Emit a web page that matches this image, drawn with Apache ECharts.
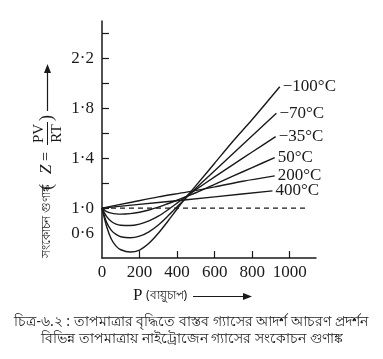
<!DOCTYPE html>
<html>
<head>
<meta charset="utf-8">
<script src="https://cdn.jsdelivr.net/npm/echarts@6/dist/echarts.min.js"></script>
<style>
html,body{margin:0;padding:0;background:#fff;}
#c{width:383px;height:359px;}
</style>
</head>
<body>
<div id="c"></div>
<script>
// ---- data ----
const seriesNames = ['\u2212100\u00B0C', '\u221270\u00B0C', '\u221235\u00B0C', '50\u00B0C', '200\u00B0C', '400\u00B0C'];
const tM100 = [[0,1],[25,0.85],[50,0.75],[75,0.695],[100,0.666],[150,0.648],[200,0.664],[250,0.718],[300,0.798],[350,0.893],[400,0.993],[450,1.09],[500,1.18],[600,1.36],[700,1.54],[800,1.71],[947,1.973]];
const tM70 = [[0,1],[25,0.885],[50,0.822],[75,0.789],[100,0.77],[150,0.762],[200,0.775],[250,0.81],[300,0.865],[350,0.935],[400,1.01],[450,1.085],[500,1.16],[600,1.3],[700,1.44],[800,1.58],[929,1.76]];
const tM35 = [[0,1],[25,0.932],[50,0.893],[75,0.871],[100,0.862],[150,0.86],[200,0.872],[250,0.897],[300,0.935],[350,0.985],[400,1.04],[450,1.095],[500,1.148],[600,1.25],[700,1.35],[800,1.45],[925,1.573]];
const t50 = [[0,1],[25,0.972],[50,0.96],[75,0.954],[100,0.952],[150,0.956],[200,0.967],[250,0.985],[300,1.008],[350,1.035],[400,1.063],[450,1.093],[500,1.123],[600,1.19],[700,1.258],[800,1.325],[920,1.405]];
const t200 = [[0,1],[150,1.045],[300,1.09],[450,1.128],[600,1.17],[750,1.215],[920,1.258]];
const t400 = [[0,1],[300,1.045],[600,1.09],[908,1.138]];
const ideal = [[0,1],[856,1],[1085,1]];
const idealLabel = '\u0986\u09A6\u09B0\u09CD\u09B6';
const xLabelValues = [0,200,400,600,800,1000];
const xTickValues = [200,400,600,800,1000];
const yLabelValues = [0.6,1.0,1.4,1.8,2.2];
const yTickValues = [1.0,1.2,1.4,1.6,1.8,2.0,2.2,2.4];
const yAxisTitle = '\u09B8\u0982\u0995\u09CB\u099A\u09A8 \u0997\u09C1\u09A3\u09BE\u0999\u09CD\u0995';
const xAxisTitle = '(\u09AC\u09BE\u09AF\u09BC\u09C1\u099A\u09BE\u09AA)';
const caption1 = '\u099A\u09BF\u09A4\u09CD\u09B0-\u09EC.\u09E8 : \u09A4\u09BE\u09AA\u09AE\u09BE\u09A4\u09CD\u09B0\u09BE\u09B0 \u09AC\u09C3\u09A6\u09CD\u09A7\u09BF\u09A4\u09C7 \u09AC\u09BE\u09B8\u09CD\u09A4\u09AC \u0997\u09CD\u09AF\u09BE\u09B8\u09C7\u09B0 \u0986\u09A6\u09B0\u09CD\u09B6 \u0986\u099A\u09B0\u09A3 \u09AA\u09CD\u09B0\u09A6\u09B0\u09CD\u09B6\u09A8';
const caption2 = '\u09AC\u09BF\u09AD\u09BF\u09A8\u09CD\u09A8 \u09A4\u09BE\u09AA\u09AE\u09BE\u09A4\u09CD\u09B0\u09BE\u09AF\u09BC \u09A8\u09BE\u0987\u099F\u09CD\u09B0\u09CB\u099C\u09C7\u09A8 \u0997\u09CD\u09AF\u09BE\u09B8\u09C7\u09B0 \u09B8\u0982\u0995\u09CB\u099A\u09A8 \u0997\u09C1\u09A3\u09BE\u0999\u09CD\u0995';

const curves = [tM100, tM70, tM35, t50, t200, t400];
const INK = '#1a1a1a';
const SERIF = '"Liberation Serif", "DejaVu Serif", serif';
const BN = '"Noto Sans", "DejaVu Sans", sans-serif';

const chart = echarts.init(document.getElementById('c'), null, {renderer: 'canvas'});

const series = curves.map((d, i) => ({
  name: seriesNames[i],
  type: 'line',
  data: d,
  smooth: 0.3,
  symbol: 'none',
  lineStyle: {color: INK, width: 1.4},
  endLabel: {show: true, formatter: seriesNames[i], color: INK, fontFamily: SERIF, fontSize: 17, distance: 3},
  z: 3
}));
series.push({
  name: 'ideal',
  type: 'line',
  data: ideal.map((p, i) => i === 1 ? {value: p, label: {show: true, position: 'top', distance: 1, formatter: idealLabel, color: INK, fontFamily: BN, fontSize: 11}} : p),
  symbol: 'none',
  lineStyle: {color: INK, width: 1.2, type: [5, 4]},
  z: 2
});

// rotated y-axis title
const yTitle = {
  type: 'group', x: 47, y: 258, rotation: Math.PI / 2,
  children: [
    {type: 'text', x: 0, y: 0, style: {text: yAxisTitle, font: '12px ' + BN, fill: INK, verticalAlign: 'middle', align: 'left'}},
    {type: 'text', x: 68, y: 0, style: {text: '(', font: '18px ' + SERIF, fill: INK, verticalAlign: 'middle', align: 'left'}},
    {type: 'text', x: 84, y: 0, style: {text: 'Z', font: 'italic 17px ' + SERIF, fill: INK, verticalAlign: 'middle', align: 'left'}},
    {type: 'text', x: 97, y: 0, style: {text: '=', font: '16px ' + SERIF, fill: INK, verticalAlign: 'middle', align: 'left'}},
    {type: 'text', x: 124.5, y: -8, style: {text: 'PV', font: '15px ' + SERIF, fill: INK, verticalAlign: 'middle', align: 'center'}},
    {type: 'line', shape: {x1: 113, y1: 0.5, x2: 136, y2: 0.5}, style: {stroke: INK, lineWidth: 1}},
    {type: 'text', x: 124.5, y: 10, style: {text: 'RT', font: '15px ' + SERIF, fill: INK, verticalAlign: 'middle', align: 'center'}},
    {type: 'text', x: 137, y: 0, style: {text: ')', font: '18px ' + SERIF, fill: INK, verticalAlign: 'middle', align: 'left'}},
    {type: 'line', shape: {x1: 147, y1: 0.5, x2: 190, y2: 0.5}, style: {stroke: INK, lineWidth: 1.2}},
    {type: 'polygon', shape: {points: [[194, 0.5], [185, -3], [185, 4]]}, style: {fill: INK}}
  ]
};

const option = {
  animation: false,
  backgroundColor: '#fff',
  grid: {left: 102, top: 21, width: 214, height: 237, containLabel: false},
  xAxis: {
    type: 'value', min: 0, max: 1140,
    axisLine: {show: true, lineStyle: {color: INK, width: 1.5}},
    axisTick: {show: true, inside: true, length: 7, customValues: xTickValues, lineStyle: {color: INK, width: 1.2}},
    axisLabel: {show: true, customValues: xLabelValues, margin: 6, color: INK, fontFamily: SERIF, fontSize: 17, formatter: v => String(v)},
    splitLine: {show: false}
  },
  yAxis: {
    type: 'value', min: 0.6, max: 2.5,
    axisLine: {show: true, lineStyle: {color: INK, width: 1.5}},
    axisTick: {show: true, inside: true, length: 7, customValues: yTickValues, lineStyle: {color: INK, width: 1.2}},
    axisLabel: {
      show: true, customValues: yLabelValues, margin: 8, color: INK, fontFamily: SERIF, fontSize: 17,
      formatter: v => {
        const s = v.toFixed(1).replace('.', '\u00B7');
        return Math.abs(v - 0.6) < 1e-6 ? '{lo|' + s + '}' : s;
      },
      rich: {lo: {fontFamily: SERIF, fontSize: 17, color: INK, padding: [0, 0, 48, 0]}}
    },
    splitLine: {show: false}
  },
  series: series,
  graphic: [
    yTitle,
    {type: 'text', x: 133, y: 296, style: {text: 'P', font: '17px ' + SERIF, fill: INK, verticalAlign: 'middle', align: 'left'}},
    {type: 'text', x: 146, y: 296, style: {text: xAxisTitle, font: '12px ' + BN, fill: INK, verticalAlign: 'middle', align: 'left'}},
    {type: 'line', shape: {x1: 193, y1: 296.5, x2: 246, y2: 296.5}, style: {stroke: INK, lineWidth: 1.2}},
    {type: 'polygon', shape: {points: [[252, 296.5], [243, 293], [243, 300]]}, style: {fill: INK}},
    {type: 'text', x: 191, y: 322, style: {text: caption1, font: '14px ' + BN, fill: INK, verticalAlign: 'middle', align: 'center'}},
    {type: 'text', x: 192, y: 339, style: {text: caption2, font: '14px ' + BN, fill: INK, verticalAlign: 'middle', align: 'center'}}
  ]
};
chart.setOption(option);
</script>
</body>
</html>
